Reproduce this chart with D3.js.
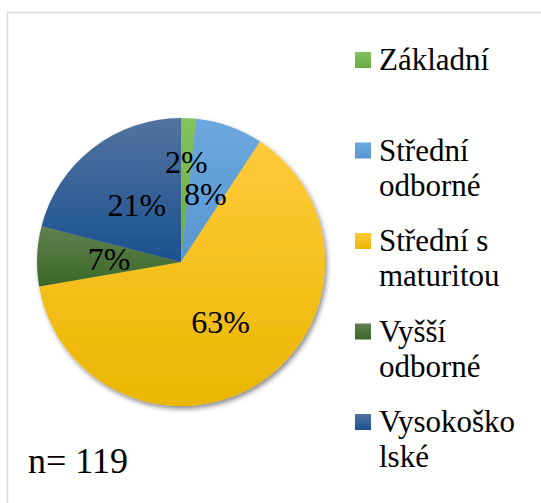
<!DOCTYPE html>
<html>
<head>
<meta charset="utf-8">
<script src="https://cdn.jsdelivr.net/npm/d3@7"></script>
<style>
  html, body { margin: 0; padding: 0; background: #fff; }
  svg { display: block; }
  svg text { font-family: "Liberation Serif", "Times New Roman", Tinos, "DejaVu Serif", serif; }
</style>
</head>
<body>
<div id="chart"></div>
<script>
// Data (counts out of n = 119)
const categories = ["Základní", "Střední odborné", "Střední s maturitou", "Vyšší odborné", "Vysokoškolské"];
const legendLines = [["Základní"], ["Střední", "odborné"], ["Střední s", "maturitou"], ["Vyšší", "odborné"], ["Vysokoško", "lské"]];
const counts = [2, 9, 75, 8, 25];
const sampleLabel = "n= 119";

// gradient stops per slice: [top, bottom]
const colors = [
  ["#84c25c", "#6aab43"],
  ["#6ca8de", "#5896d0"],
  ["#ffca3a", "#ebb600"],
  ["#5f8050", "#3b6826"],
  ["#52739e", "#1b5190"]
];

const W = 541, H = 503;
const cx = 181, cy = 262, R = 144;
const serif = "'Liberation Serif', 'Times New Roman', Tinos, 'DejaVu Serif', serif";

const svg = d3.select("#chart").append("svg")
  .attr("width", W)
  .attr("height", H)
  .attr("font-family", serif);

const defs = svg.append("defs");

colors.forEach((c, i) => {
  const g = defs.append("linearGradient")
    .attr("id", "grad" + i)
    .attr("x1", 0).attr("y1", 0).attr("x2", 0).attr("y2", 1);
  g.append("stop").attr("offset", "0%").attr("stop-color", c[0]);
  g.append("stop").attr("offset", "100%").attr("stop-color", c[1]);
});

const shadow = defs.append("filter")
  .attr("id", "shadow")
  .attr("x", "-10%").attr("y", "-10%")
  .attr("width", "130%").attr("height", "130%");
shadow.append("feDropShadow")
  .attr("dx", 2).attr("dy", 3)
  .attr("stdDeviation", 2.5)
  .attr("flood-color", "#000")
  .attr("flood-opacity", 0.45);

// chart frame (only left and top edges visible)
svg.append("rect")
  .attr("x", 7.5).attr("y", 12.5)
  .attr("width", W + 20).attr("height", H + 20)
  .attr("fill", "#fff")
  .attr("stroke", "#d9d9d9")
  .attr("stroke-width", 1.5);

const total = d3.sum(counts);
const pie = d3.pie().sort(null).value((d) => d);
const arcs = pie(counts);
const arc = d3.arc().innerRadius(0).outerRadius(R);

const pieG = svg.append("g")
  .attr("transform", `translate(${cx},${cy})`);

pieG.append("g")
  .attr("filter", "url(#shadow)")
  .selectAll("path")
  .data(arcs)
  .join("path")
  .attr("d", arc)
  .attr("fill", (d, i) => `url(#grad${i})`);

// labels: near half radius, tiny slices pushed outward
const labelArc = (d) => {
  const r = d.value / total < 0.03 ? R * 0.7 : R * 0.5;
  return d3.arc().innerRadius(r).outerRadius(r).centroid(d);
};

pieG.selectAll("text.pct")
  .data(arcs)
  .join("text")
  .attr("class", "pct")
  .attr("x", (d) => labelArc(d)[0])
  .attr("y", (d) => labelArc(d)[1])
  .attr("dy", "0.35em")
  .attr("text-anchor", "middle")
  .attr("font-size", 32)
  .attr("fill", "#000")
  .text((d) => Math.round((d.value / total) * 100) + "%");

// legend
const legend = svg.append("g")
  .selectAll("g")
  .data(categories)
  .join("g")
  .attr("transform", (d, i) => `translate(355,${52 + i * 90.5})`);

legend.append("rect")
  .attr("width", 16).attr("height", 16)
  .attr("fill", (d, i) => `url(#grad${i})`);

legend.append("text")
  .attr("x", 24)
  .attr("y", 18)
  .attr("font-size", 31)
  .attr("fill", "#000")
  .selectAll("tspan")
  .data((d, i) => legendLines[i])
  .join("tspan")
  .attr("x", 24)
  .attr("dy", (d, j) => (j === 0 ? 0 : 35))
  .text((d) => d);

svg.append("text")
  .attr("x", 28)
  .attr("y", 473)
  .attr("font-size", 36)
  .attr("fill", "#000")
  .text(sampleLabel);
</script>
</body>
</html>
